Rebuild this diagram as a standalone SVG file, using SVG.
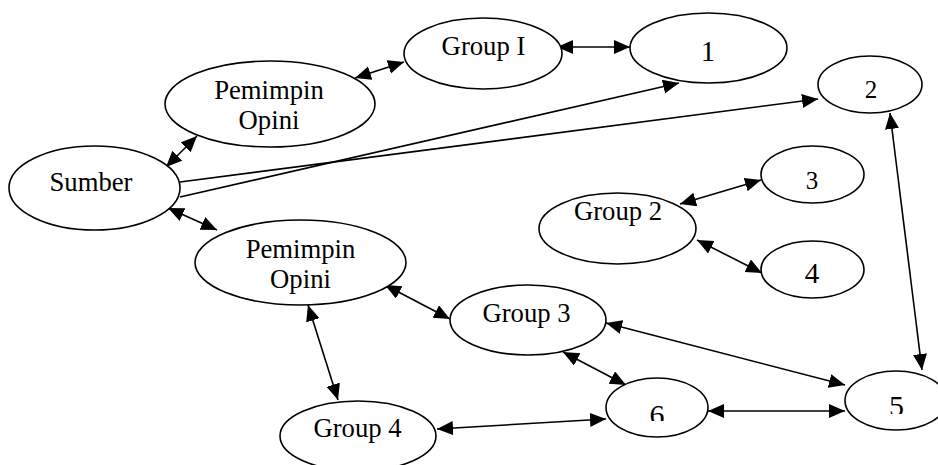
<svg xmlns="http://www.w3.org/2000/svg" width="938" height="465" viewBox="0 0 938 465">
<style>
  .node ellipse { fill: #ffffff; stroke: #000000; stroke-width: 1.6; }
  .node text { font-family: "Liberation Serif", "Times New Roman", serif; font-size: 26.7px; fill: #000000; text-anchor: middle; }
  .conn line { stroke: #000000; stroke-width: 1.6; fill: none; }
  .both { marker-start: url(#ah); marker-end: url(#ah); }
  .one { marker-end: url(#ah); }
</style>
<defs>
  <marker id="ah" markerUnits="userSpaceOnUse" markerWidth="17" markerHeight="15" refX="16" refY="7" orient="auto-start-reverse">
    <path d="M0,0 L16,7 L0,14 z" fill="#000000"/>
  </marker>
  <clipPath id="clip6"><rect x="630" y="395" width="60" height="26"/></clipPath>
  <clipPath id="clip5"><rect x="870" y="385" width="60" height="29"/></clipPath>
</defs>
<rect width="938" height="465" fill="#ffffff"/>

<g id="connectors" class="conn">
  <line class="both" x1="355" y1="78" x2="404" y2="62"/>
  <line class="both" x1="557" y1="47" x2="630" y2="47"/>
  <line class="both" x1="166" y1="167" x2="197" y2="136"/>
  <line class="one" x1="180" y1="197" x2="679" y2="83"/>
  <line class="one" x1="180" y1="182" x2="818" y2="99"/>
  <line class="both" x1="168" y1="208" x2="217" y2="230"/>
  <line class="both" x1="680" y1="204" x2="761" y2="180"/>
  <line class="both" x1="697" y1="240" x2="762" y2="273"/>
  <line class="both" x1="890" y1="113" x2="922" y2="370"/>
  <line class="both" x1="385" y1="285" x2="450" y2="319"/>
  <line class="both" x1="308" y1="305" x2="338" y2="400"/>
  <line class="both" x1="437" y1="429" x2="606" y2="419"/>
  <line class="both" x1="606" y1="323" x2="845" y2="385"/>
  <line class="both" x1="563" y1="352" x2="626" y2="385"/>
  <line class="both" x1="708" y1="411" x2="845" y2="411"/>
</g>

<g id="sumber" class="node">
  <ellipse cx="94.5" cy="188" rx="85.5" ry="42"/>
  <text x="91" y="191">Sumber</text>
</g>
<g id="pemimpin1" class="node">
  <ellipse cx="270" cy="104" rx="105" ry="43"/>
  <text x="269" y="99">Pemimpin</text>
  <text x="269" y="129">Opini</text>
</g>
<g id="groupI" class="node">
  <ellipse cx="483" cy="53.5" rx="79" ry="35.5"/>
  <text x="483.5" y="55">Group I</text>
</g>
<g id="n1" class="node">
  <ellipse cx="708.5" cy="48" rx="78.5" ry="35"/>
  <text x="708" y="61" style="font-size:29px">1</text>
</g>
<g id="n2" class="node">
  <ellipse cx="870" cy="84.5" rx="52" ry="28.5"/>
  <text x="871" y="98" style="font-size:25px">2</text>
</g>
<g id="n3" class="node">
  <ellipse cx="812.5" cy="174.5" rx="51.5" ry="28.5"/>
  <text x="812" y="189" style="font-size:25px">3</text>
</g>
<g id="group2" class="node">
  <ellipse cx="617.5" cy="228.5" rx="78.5" ry="35.5"/>
  <text x="618" y="220">Group 2</text>
</g>
<g id="n4" class="node">
  <ellipse cx="812.5" cy="269.5" rx="51.5" ry="28.5"/>
  <text x="812" y="283" style="font-size:29px">4</text>
</g>
<g id="pemimpin2" class="node">
  <ellipse cx="300.5" cy="262.5" rx="105.5" ry="42.5"/>
  <text x="300.5" y="258">Pemimpin</text>
  <text x="300.5" y="288">Opini</text>
</g>
<g id="group3" class="node">
  <ellipse cx="528" cy="320" rx="78" ry="35"/>
  <text x="526.5" y="322">Group 3</text>
</g>
<g id="group4" class="node">
  <ellipse cx="358" cy="436" rx="78" ry="35"/>
  <text x="357.5" y="437">Group 4</text>
</g>
<g id="n6" class="node">
  <ellipse cx="657" cy="407.5" rx="51" ry="29.5"/>
  <text x="657" y="424.5" clip-path="url(#clip6)" style="font-size:30px">6</text>
</g>
<g id="n5" class="node">
  <ellipse cx="896" cy="400.5" rx="51" ry="29.5"/>
  <text x="896.5" y="416" clip-path="url(#clip5)" style="font-size:30px">5</text>
</g>
</svg>
